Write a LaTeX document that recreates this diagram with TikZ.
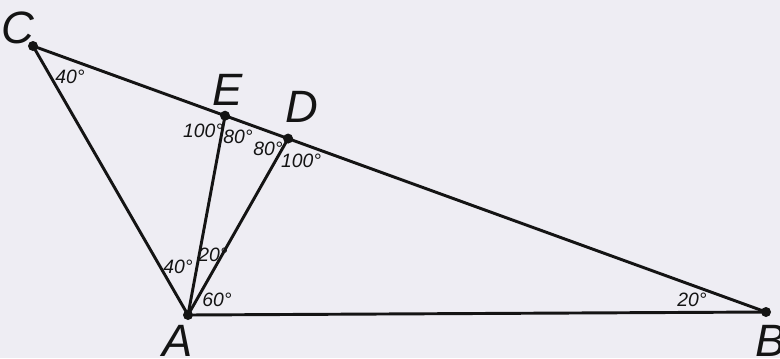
\documentclass[tikz,border=0pt]{standalone}
\usepackage{fontspec}
\setmainfont{Liberation Sans}
\usepackage{tikz}
\usetikzlibrary{positioning,calc}
\definecolor{fondo}{HTML}{EEEDF3}
\definecolor{ink}{HTML}{141414}
\tikzset{
  lado/.style={draw=ink,line width=2.2pt},
  punto/.style={circle,fill=ink,inner sep=0pt,minimum size=7.5pt},
  vertice/.style={font=\fontsize{34}{34}\selectfont\itshape,color=ink,inner sep=0pt},
  angulo/.style={font=\fontsize{14.5}{14.5}\selectfont\itshape,color=ink,inner sep=0pt},
}
\begin{document}
\begin{tikzpicture}[x=0.75pt,y=-0.75pt]
  \fill[fondo] (0,0) rectangle (780,358);
  \useasboundingbox (0,0) rectangle (780,358);
  \coordinate (C) at (33,46);
  \coordinate (A) at (188,315);
  \coordinate (B) at (766,312);
  \coordinate (E) at ($(C)!0.262!(B)$);
  \coordinate (D) at ($(C)!0.348!(B)$);
  \draw[lado] (C) -- (B);
  \draw[lado] (C) -- (A) -- (B);
  \draw[lado] (A) -- (E);
  \draw[lado] (A) -- (D);
  \foreach \p in {A,B,C,D,E} \node[punto] at (\p) {};
  % vertices
  \node[vertice] (labC) at (18,28) {C};
  \node[vertice] (labE) at (228,90) {E};
  \node[vertice] (labD) at (302,107) {D};
  \node[vertice] (labA) at (178,341) {A};
  \node[vertice] (labB) at (771,341) {B};
  % angulos
  \node[angulo] (aC) at (70,77) {40°};
  \node[angulo] (aE1) at (203,131) {100°};
  \node[angulo] (aE2) at (238,137) {80°};
  \node[angulo] (aD1) at (268,149) {80°};
  \node[angulo] (aD2) at (301,161) {100°};
  \node[angulo] (aA1) at (178,267) {40°};
  \node[angulo] (aA2) at (213,255) {20°};
  \node[angulo] (aA3) at (217,300) {60°};
  \node[angulo] (aB) at (692,300) {20°};
\end{tikzpicture}
\end{document}
